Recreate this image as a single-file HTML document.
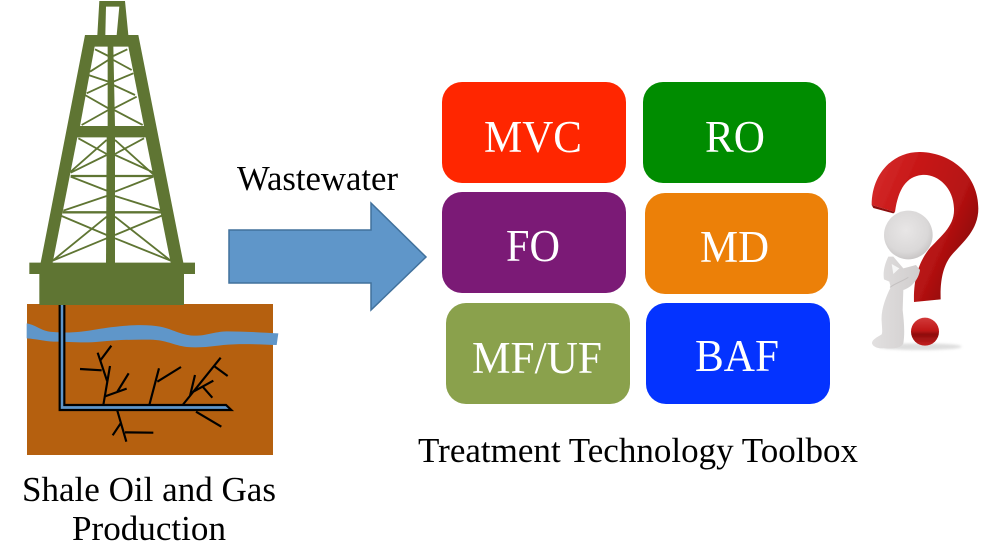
<!DOCTYPE html>
<html>
<head>
<meta charset="utf-8">
<style>
html,body{margin:0;padding:0;background:#fff;width:1000px;height:550px;overflow:hidden}
svg{display:block}
text{font-family:"Liberation Serif",serif}
.w{fill:#fff;font-size:45px}
.k{fill:#000;font-size:35px}
</style>
</head>
<body>
<svg width="1000" height="550" viewBox="0 0 1000 550" xmlns="http://www.w3.org/2000/svg">
<defs>
<linearGradient id="qg" x1="0" y1="0" x2="1" y2="0.6">
<stop offset="0" stop-color="#d83030"/><stop offset="0.35" stop-color="#c81818"/><stop offset="0.75" stop-color="#b51212"/><stop offset="1" stop-color="#8a0a0a"/>
</linearGradient>
<linearGradient id="dg" x1="0" y1="0" x2="0" y2="1">
<stop offset="0" stop-color="#d23a3a"/><stop offset="0.45" stop-color="#c01818"/><stop offset="0.6" stop-color="#8e0c0c"/><stop offset="1" stop-color="#c42020"/>
</linearGradient>
<radialGradient id="hg" cx="0.45" cy="0.4" r="0.65">
<stop offset="0" stop-color="#e8e6e6"/><stop offset="0.7" stop-color="#dad8d8"/><stop offset="1" stop-color="#c4c1c1"/>
</radialGradient>
<linearGradient id="bg" x1="0" y1="0" x2="1" y2="0">
<stop offset="0" stop-color="#e2e0e0"/><stop offset="1" stop-color="#d0cdcd"/>
</linearGradient>
<filter id="b1" x="-20%" y="-20%" width="140%" height="140%"><feGaussianBlur stdDeviation="0.5"/></filter>
<filter id="b2" x="-30%" y="-100%" width="160%" height="300%"><feGaussianBlur stdDeviation="4"/></filter>
</defs>

<!-- Soil -->
<rect x="27" y="304" width="246" height="151" fill="#b5600f"/>
<g transform="translate(10,290) scale(0.33333)">
<path d="M50,100 C80,105 95,125 130,126 C180,130 220,125 260,118 C320,108 400,100 450,110 C490,118 510,135 550,137 C590,138 610,125 650,124 C700,124 760,128 805,130 L800,165 C750,163 690,160 640,165 C600,170 570,174 530,171 C490,166 470,150 420,149 C370,148 320,150 270,155 C220,160 180,155 130,155 C100,153 80,147 50,145 Z" fill="#5f96c9"/>
<path d="M148,45 V361 H666 L648,345 H164 V45 Z" fill="#5f96c9"/>
<g fill="none" stroke="#000" stroke-width="6.5">
<path d="M149,45 V360 H664 L648,345 H163 V45"/>
<path d="M280,345 L300,228 M263,188 L292,275 M272,210 L304,167 M210,237 L275,241 M283,320 L350,296 M322,305 L356,250"/>
<path d="M418,345 L447,235 M442,275 L513,231"/>
<path d="M518,345 L632,203 M540,318 L555,255 M550,305 L610,272 M578,290 L607,323 M612,228 L653,258"/>
<path d="M558,365 L634,410"/>
<path d="M322,362 L349,455 M332,400 L308,436 M345,427 L430,428"/>
</g>
</g>

<!-- Tower -->
<g transform="scale(0.33333)">
<path d="M298,3 H375 L385,105 H415 L550,788 H585 V822 H552 V915 H118 V822 H88 V788 H122 L255,105 H292 Z" fill="#5f7533"/>
<g fill="#fff">
<path d="M318,20 H358 L350,105 H316 Z"/>
<path d="M284,140 H323 V378 H240 Z"/>
<path d="M340,140 H385 L432,378 H345 Z"/>
<path d="M232,412 H320 L318,788 H158 Z"/>
<path d="M345,412 H437 L512,788 H345 Z"/>
</g>
<g stroke="#5f7533" stroke-width="5.5" fill="none">
<path d="M285,148 L325,168 M325,180 L270,215 M265,225 L325,245 M325,250 L260,280 M255,285 L325,325 M325,330 L245,375"/>
<path d="M382,148 L340,168 M340,180 L395,210 M400,220 L340,245 M340,255 L405,285 M410,290 L342,325 M342,330 L428,375"/>
<path d="M235,415 L320,462 M320,420 L212,515 M320,465 L212,518 M212,530 L320,572 M320,588 L190,632 M185,648 L320,705 M320,650 L158,782 M320,715 L158,782"/>
<path d="M432,415 L345,462 M345,420 L462,525 M462,518 L345,465 M460,530 L345,575 M345,588 L485,632 M490,645 L345,705 M345,650 L512,782 M345,715 L512,782"/>
<path d="M212,528 H460 M188,637 H485" stroke-width="7"/>
</g>
</g>

<!-- Arrow -->
<path d="M229,230 H371 V203 L426,257 L371,310 V283 H229 Z" fill="#5f96c9" stroke="#41719c" stroke-width="1.5"/>

<!-- Boxes -->
<rect x="442" y="82" width="184" height="101" rx="20" fill="#ff2600"/>
<rect x="643" y="82" width="183" height="101" rx="20" fill="#008c00"/>
<rect x="442" y="192" width="184" height="101" rx="20" fill="#7b1a76"/>
<rect x="645" y="193" width="183" height="101" rx="20" fill="#ec8008"/>
<rect x="446" y="303" width="184" height="101" rx="20" fill="#8aa14c"/>
<rect x="646" y="303" width="184" height="101" rx="20" fill="#0433ff"/>

<text class="w" x="484" y="152" textLength="98" lengthAdjust="spacingAndGlyphs">MVC</text>
<text class="w" x="705" y="152" textLength="60" lengthAdjust="spacingAndGlyphs">RO</text>
<text class="w" x="506" y="261" textLength="54" lengthAdjust="spacingAndGlyphs">FO</text>
<text class="w" x="700" y="262" textLength="69" lengthAdjust="spacingAndGlyphs">MD</text>
<text class="w" x="472" y="373" textLength="130" lengthAdjust="spacingAndGlyphs">MF/UF</text>
<text class="w" x="695" y="371" textLength="84" lengthAdjust="spacingAndGlyphs">BAF</text>

<text class="k" x="237" y="190" textLength="161" lengthAdjust="spacingAndGlyphs">Wastewater</text>
<text class="k" x="418" y="462" textLength="440" lengthAdjust="spacingAndGlyphs">Treatment Technology Toolbox</text>
<text class="k" x="22" y="501" textLength="254" lengthAdjust="spacingAndGlyphs">Shale Oil and Gas</text>
<text class="k" x="72" y="540" textLength="154" lengthAdjust="spacingAndGlyphs">Production</text>

<!-- Question mark -->
<g transform="translate(840,130) scale(0.33333)">
<ellipse cx="240" cy="650" rx="125" ry="10" fill="#bbb" opacity="0.5" filter="url(#b2)"/>
<g filter="url(#b1)">
<path d="M95,225 C95,130 160,65 240,66 C340,68 415,140 415,235 C415,300 370,335 335,375 C310,405 300,450 302,508 L222,516 C220,450 235,400 265,360 C300,320 345,290 342,235 C340,170 290,130 245,135 C200,140 175,175 165,246 Z" fill="url(#qg)"/>
<path d="M95,225 L165,246 L160,250 L100,234 Z" fill="#8c0c0c"/>
<circle cx="255" cy="605" r="42" fill="url(#dg)"/>
</g>
</g>

<!-- Figure -->
<g transform="translate(860,200) scale(0.33333)" filter="url(#b1)">
<path d="M85,170 C75,190 68,215 72,238 L88,245 L92,262 C78,290 62,330 65,365 C66,385 68,395 65,403 C50,412 35,420 36,430 C40,444 62,446 72,444 C90,448 125,445 130,430 C135,400 132,365 128,330 L130,270 C155,262 175,240 180,210 L168,195 L130,205 L100,170 Z" fill="url(#bg)"/>
<path d="M95,192 L118,205 L100,222 Z" fill="#f6f6f6"/>
<path d="M90,262 C105,250 125,245 145,232" stroke="#c4c1c1" stroke-width="3" fill="none"/>
<circle cx="145" cy="105" r="73" fill="url(#hg)"/>
</g>
</svg>
</body>
</html>
